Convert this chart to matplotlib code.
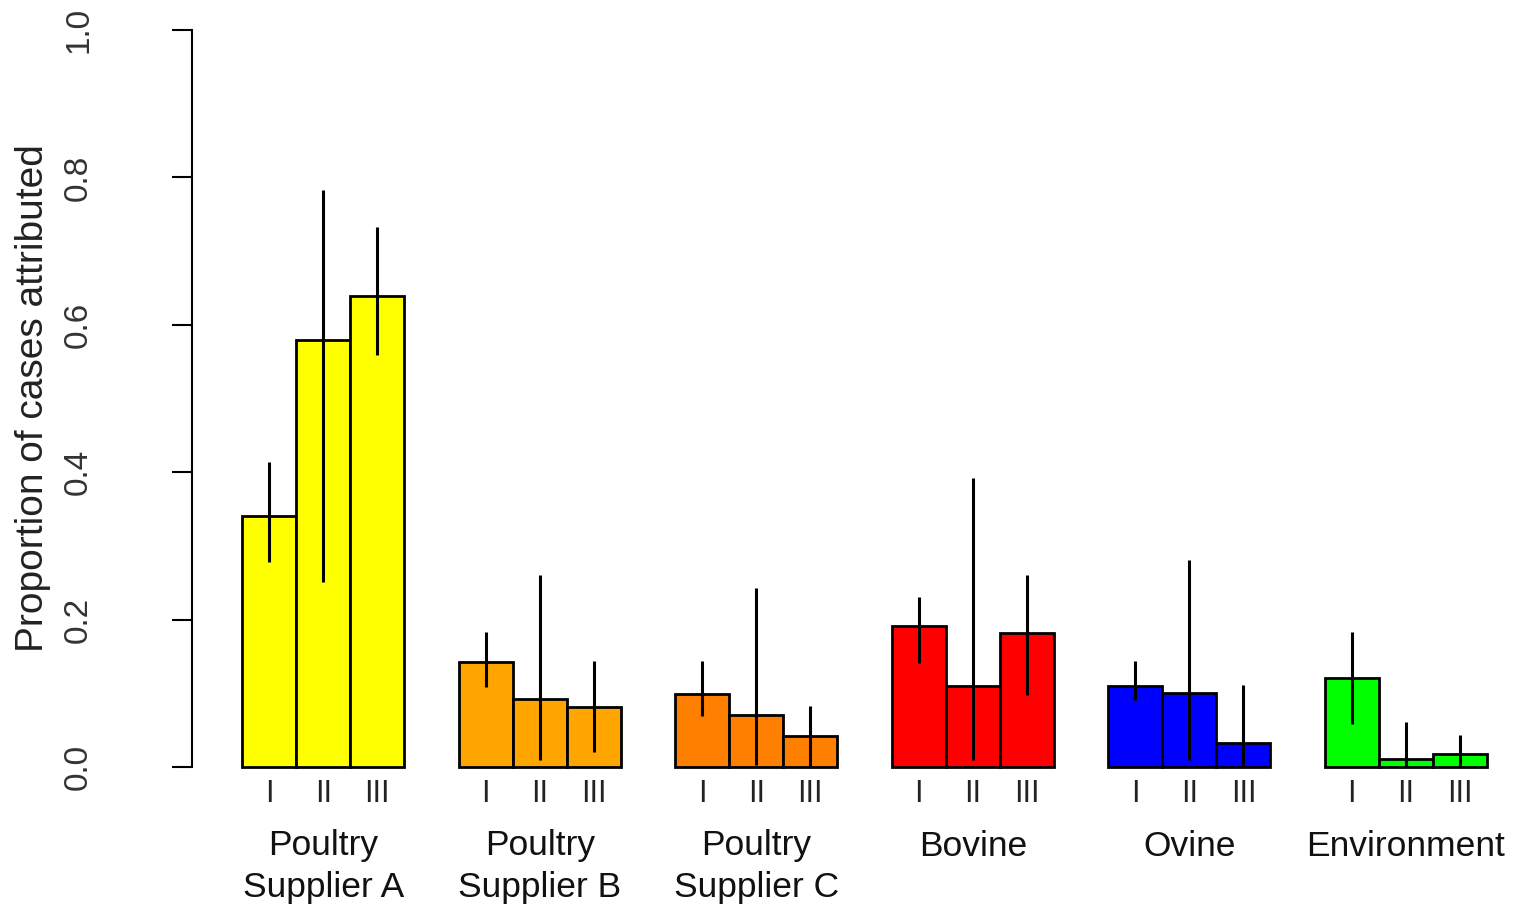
import numpy as np
import matplotlib
matplotlib.use("Agg")
import matplotlib.pyplot as plt

plt.rcParams['font.family'] = ['Liberation Sans', 'DejaVu Sans']

# source groups and period labels
groups = [["Poultry", "Supplier A"], ["Poultry", "Supplier B"], ["Poultry", "Supplier C"],
          ["Bovine"], ["Ovine"], ["Environment"]]
periods = ["I", "II", "III"]
colors = ["#FFFF00", "#FFA500", "#FF7F00", "#FF0000", "#0000FF", "#00FF00"]

# proportion attributed, per group (I, II, III)
means = [[0.341, 0.579, 0.639],
         [0.142, 0.092, 0.081],
         [0.099, 0.071, 0.042],
         [0.191, 0.110, 0.182],
         [0.110, 0.100, 0.033],
         [0.121, 0.011, 0.018]]
lower = [[0.278, 0.251, 0.559],
         [0.109, 0.009, 0.020],
         [0.069, 0.003, 0.001],
         [0.141, 0.009, 0.098],
         [0.091, 0.009, 0.000],
         [0.058, 0.000, 0.000]]
upper = [[0.414, 0.783, 0.733],
         [0.183, 0.260, 0.144],
         [0.144, 0.243, 0.083],
         [0.231, 0.392, 0.260],
         [0.144, 0.281, 0.111],
         [0.183, 0.061, 0.043]]

fig = plt.figure(figsize=(15.16, 9.06), dpi=100)
ax = fig.add_axes([192 / 1516, 139 / 906, 1324 / 1516, 737 / 906])

for g in range(len(groups)):
    x = 1.5 + 4 * g + np.arange(3)
    ax.bar(x, means[g], width=1.0, color=colors[g], edgecolor="black",
           linewidth=2, clip_on=False, zorder=2)
    ax.vlines(x, lower[g], upper[g], color="black", linewidth=2.2,
              clip_on=False, zorder=3)
    for xi, lab in zip(x, periods):
        ax.text(xi, -27 / 737, lab, transform=ax.get_xaxis_transform(),
                ha="center", va="center", fontsize=22, color="#222222")
    for k, line in enumerate(groups[g]):
        ax.text(x[1], -(79 + 42 * k) / 737, line, transform=ax.get_xaxis_transform(),
                ha="center", va="center", fontsize=25.5, color="#111111")

ax.set_xlim(0.0763, 24.536)
ax.set_ylim(0, 1)
ax.set_xticks([])
ax.set_yticks([0, 0.2, 0.4, 0.6, 0.8, 1.0])
ax.set_yticklabels(["0.0", "0.2", "0.4", "0.6", "0.8", "1.0"], rotation=90,
                   va="center", fontsize=24, color="#333333")
ax.tick_params(axis="y", length=14.5, width=1.5, pad=56)
for s in ["top", "right", "bottom"]:
    ax.spines[s].set_visible(False)
ax.spines["left"].set_linewidth(1.5)
ax.spines["left"].set_bounds(0, 1)
ax.set_ylabel("Proportion of cases attributed", fontsize=28, color="#222222")
ax.yaxis.set_label_coords(-141 / 1324, 0.5)

fig.savefig("out.png", dpi=100)
